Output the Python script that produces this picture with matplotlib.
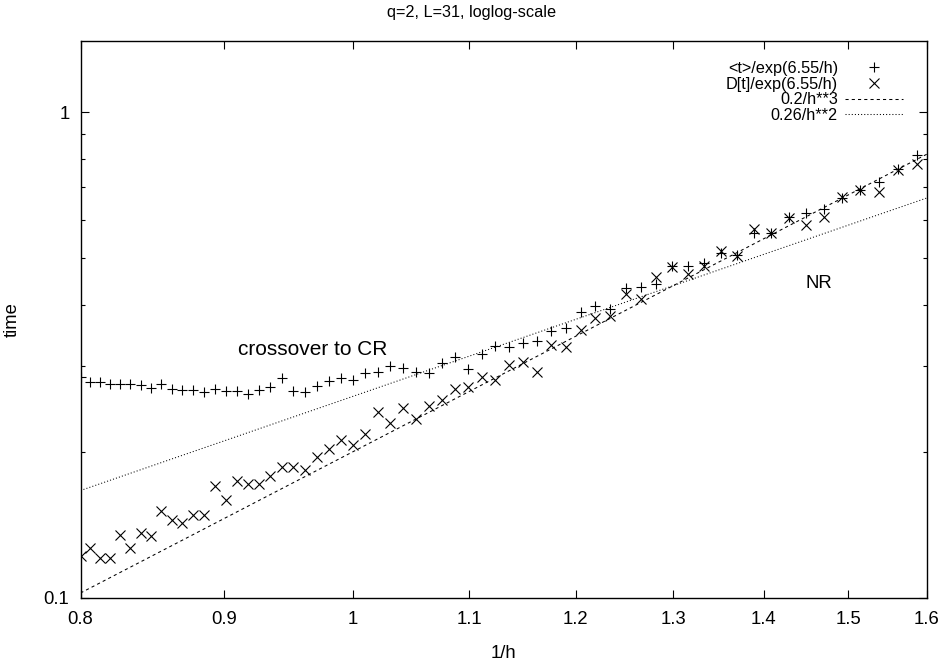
import matplotlib
matplotlib.use('Agg')
import numpy as np
from matplotlib import pyplot as plt
from matplotlib.ticker import FixedLocator, FixedFormatter, NullFormatter

plt.rcParams['font.family'] = ['Liberation Sans', 'DejaVu Sans']

# field values h (points are drawn at 1/h)
h = [
    1.25, 1.24, 1.23, 1.22, 1.21, 1.20, 1.19, 1.18, 1.17, 1.16,
    1.15, 1.14, 1.13, 1.12, 1.11, 1.10, 1.09, 1.08, 1.07, 1.06,
    1.05, 1.04, 1.03, 1.02, 1.01, 1.00, 0.99, 0.98, 0.97, 0.96,
    0.95, 0.94, 0.93, 0.92, 0.91, 0.90, 0.89, 0.88, 0.87, 0.86,
    0.85, 0.84, 0.83, 0.82, 0.81, 0.80, 0.79, 0.78, 0.77, 0.76,
    0.75, 0.74, 0.73, 0.72, 0.71, 0.70, 0.69, 0.68, 0.67, 0.66,
    0.65, 0.64, 0.63,
]

# <t>/exp(6.55/h)
t_mean = [
    0.285, 0.278, 0.278, 0.276, 0.276, 0.276, 0.274, 0.270, 0.276, 0.269,
    0.268, 0.268, 0.265, 0.269, 0.267, 0.267, 0.263, 0.268, 0.272, 0.284,
    0.267, 0.265, 0.273, 0.279, 0.284, 0.281, 0.291, 0.292, 0.300, 0.297,
    0.292, 0.290, 0.304, 0.313, 0.296, 0.318, 0.330, 0.328, 0.334, 0.338,
    0.354, 0.359, 0.388, 0.398, 0.394, 0.434, 0.436, 0.442, 0.482, 0.482,
    0.490, 0.512, 0.508, 0.563, 0.563, 0.607, 0.621, 0.632, 0.665, 0.691,
    0.719, 0.762, 0.814,
]

# D[t]/exp(6.55/h)
t_dev = [
    0.122, 0.127, 0.121, 0.121, 0.135, 0.127, 0.136, 0.134, 0.151, 0.145,
    0.143, 0.148, 0.148, 0.170, 0.159, 0.174, 0.172, 0.172, 0.178, 0.186,
    0.186, 0.183, 0.195, 0.203, 0.211, 0.206, 0.217, 0.241, 0.229, 0.246,
    0.234, 0.248, 0.256, 0.269, 0.272, 0.285, 0.281, 0.302, 0.306, 0.292,
    0.332, 0.329, 0.356, 0.376, 0.380, 0.422, 0.412, 0.457, 0.479, 0.464,
    0.481, 0.518, 0.506, 0.574, 0.563, 0.604, 0.585, 0.607, 0.670, 0.691,
    0.684, 0.760, 0.782,
]

# fitted power laws from the legend: a/h**n
fit_cubic = 0.2
fit_square = 0.26

x_ticks = [0.8, 0.9, 1.0, 1.1, 1.2, 1.3, 1.4, 1.5, 1.6]
x_labels = ['0.8', '0.9', '1', '1.1', '1.2', '1.3', '1.4', '1.5', '1.6']
y_ticks = [0.1, 1.0]
y_labels = ['0.1', '1']
y_minor = [0.2, 0.3, 0.4, 0.5, 0.6, 0.7, 0.8, 0.9]

x_range = (0.8, 1.6)
y_range = (0.1, 1.4)

small = 11.7   # title and key
large = 13.3   # ticks, axis labels, annotations

W, H = 943, 662
fig = plt.figure(figsize=(W / 100, H / 100), dpi=100)
ax = fig.add_axes([80.5 / W, 1 - 598 / H, (927 - 80.5) / W, (598 - 41) / H])

inv_h = 1 / np.array(h)
xs = np.geomspace(*x_range, 200)

ax.plot(inv_h, t_mean, linestyle='none', marker='+', markersize=7.5,
        markeredgewidth=0.8, color='black', label='<t>/exp(6.55/h)')
ax.plot(inv_h, t_dev, linestyle='none', marker='x', markersize=6.5,
        markeredgewidth=0.8, color='black', label='D[t]/exp(6.55/h)')
ax.plot(xs, fit_cubic * xs ** 3, color='black', linewidth=0.75,
        linestyle=(0, (3, 3)), label='0.2/h**3')
ax.plot(xs, fit_square * xs ** 2, color='black', linewidth=0.75,
        linestyle=(0, (1, 2)), label='0.26/h**2')

ax.set_xscale('log')
ax.set_yscale('log')
ax.set_xlim(*x_range)
ax.set_ylim(*y_range)

ax.xaxis.set_major_locator(FixedLocator(x_ticks))
ax.xaxis.set_major_formatter(FixedFormatter(x_labels))
ax.xaxis.set_minor_locator(FixedLocator([]))
ax.xaxis.set_minor_formatter(NullFormatter())
ax.yaxis.set_major_locator(FixedLocator(y_ticks))
ax.yaxis.set_major_formatter(FixedFormatter(y_labels))
ax.yaxis.set_minor_locator(FixedLocator(y_minor))
ax.yaxis.set_minor_formatter(NullFormatter())

ax.tick_params(which='both', direction='in', top=True, right=True,
               width=0.8, labelsize=large)
ax.tick_params(which='major', length=6)
ax.tick_params(which='minor', length=3)
ax.tick_params(axis='x', pad=9)
ax.tick_params(axis='y', pad=8)
for sp in ax.spines.values():
    sp.set_linewidth(1.0)

ax.text(0.910, 0.324, 'crossover to CR', fontsize=15, ha='left', va='center')
ax.text(1.449, 0.4446, 'NR', fontsize=large, ha='left', va='center')

ax.set_xlabel('1/h', fontsize=large)
ax.xaxis.set_label_coords(0.5, -0.1)
ax.xaxis.label.set_va('center')
ax.set_ylabel('time', fontsize=large)
ax.yaxis.set_label_coords(-0.081, 0.5)
ax.yaxis.label.set_va('center')

fig.text(0.5, 1 - 12 / H, 'q=2, L=31, loglog-scale', ha='center', va='center', fontsize=small)

ax.legend(loc='upper right', bbox_to_anchor=(0.9716, 0.9646), frameon=False,
          markerfirst=False, fontsize=small, handlelength=3.57, handletextpad=0.43,
          labelspacing=0.05, borderpad=0, borderaxespad=0)

fig.savefig('out.png', dpi=100)
